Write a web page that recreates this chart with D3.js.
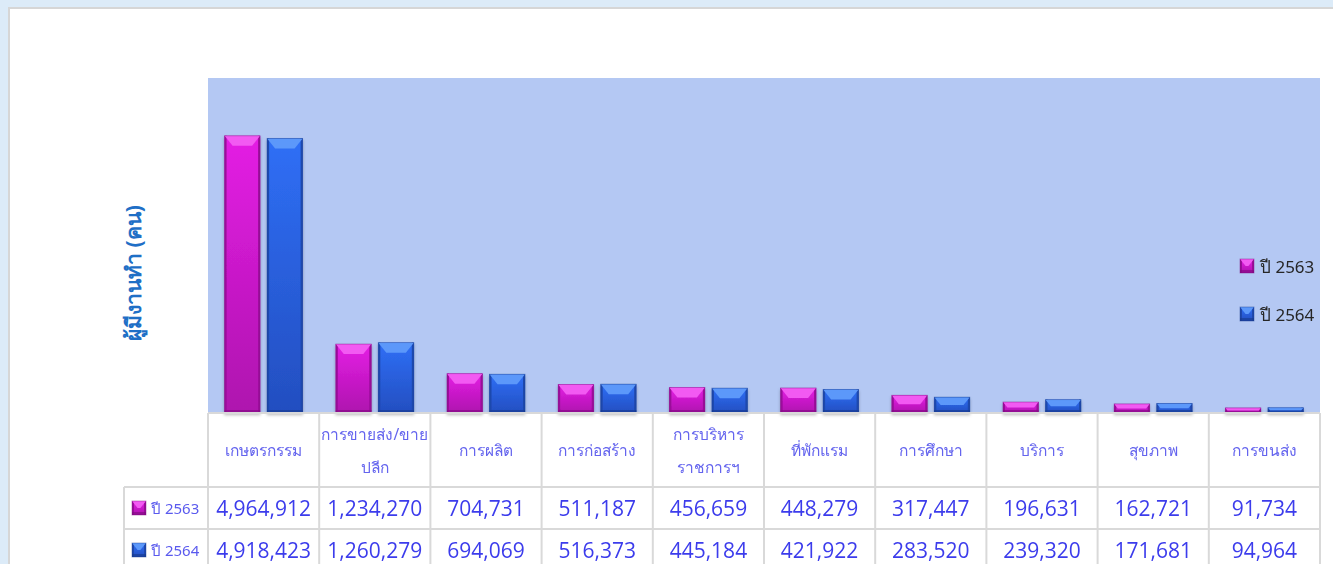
<!DOCTYPE html>
<html>
<head>
<meta charset="utf-8">
<script src="https://cdn.jsdelivr.net/npm/d3@7"></script>
<style>
  html, body { margin: 0; padding: 0; background: #dcebf8; overflow: hidden; }
  svg { display: block; }
</style>
</head>
<body>
<div id="chart"></div>
<script>
// ข้อมูลผู้มีงานทำ แยกตามอุตสาหกรรม
const categories = [
  ['เกษตรกรรม'],
  ['การขายส่ง/ขาย', 'ปลีก'],
  ['การผลิต'],
  ['การก่อสร้าง'],
  ['การบริหาร', 'ราชการฯ'],
  ['ที่พักแรม'],
  ['การศึกษา'],
  ['บริการ'],
  ['สุขภาพ'],
  ['การขนส่ง']
];
const seriesNames = ['ปี 2563', 'ปี 2564'];
const values2563 = [4964912, 1234270, 704731, 511187, 456659, 448279, 317447, 196631, 162721, 91734];
const values2564 = [4918423, 1260279, 694069, 516373, 445184, 421922, 283520, 239320, 171681, 94964];
const yMax = 6000000;

const W = 1333, H = 564;
const plot = { left: 208, right: 1320, top: 78, bottom: 413 };
const rowY = [413, 487, 529, 571];   // เส้นแบ่งแถวของตาราง

// สีของแต่ละชุดข้อมูล (หน้า, ขอบบน, ขอบข้าง)
const palette = [
  { top: '#e41fe4', bottom: '#ae12ae', bevel: '#f25af2', side: '#9a0e9a', base: '#7e0a7e' },
  { top: '#2f6ff6', bottom: '#234ec0', bevel: '#5c98fa', side: '#1f48ad', base: '#173a8c' }
];

const svg = d3.select('#chart').append('svg')
  .attr('width', W)
  .attr('height', H);

const defs = svg.append('defs');
palette.forEach((p, i) => {
  const g = defs.append('linearGradient')
    .attr('id', 'face' + i)
    .attr('x1', 0).attr('y1', 0).attr('x2', 0).attr('y2', 1);
  g.append('stop').attr('offset', '0%').attr('stop-color', p.top);
  g.append('stop').attr('offset', '100%').attr('stop-color', p.bottom);
});
defs.append('filter')
  .attr('id', 'shadow')
  .attr('x', '-20%').attr('y', '-20%').attr('width', '140%').attr('height', '140%')
  .append('feDropShadow')
  .attr('dx', 0).attr('dy', 2).attr('stdDeviation', 1.5)
  .attr('flood-color', '#000').attr('flood-opacity', 0.25);

// พื้นหลังหน้า
svg.append('rect')
  .attr('x', 9).attr('y', 8)
  .attr('width', W).attr('height', H)
  .attr('fill', '#ffffff')
  .attr('stroke', '#d6d6d6')
  .attr('stroke-width', 2);

// พื้นที่กราฟ
svg.append('rect')
  .attr('x', plot.left).attr('y', plot.top)
  .attr('width', plot.right - plot.left)
  .attr('height', plot.bottom - plot.top)
  .attr('fill', '#b4c8f3');

// สเกล
const x = d3.scaleBand()
  .domain(d3.range(categories.length))
  .range([plot.left, plot.right])
  .paddingInner(0).paddingOuter(0);

const xSub = d3.scaleBand()
  .domain([0, 1])
  .range([0, x.bandwidth()])
  .paddingInner(0.165)
  .paddingOuter(0.39);

const y = d3.scaleLinear()
  .domain([0, yMax])
  .range([plot.bottom, plot.top]);

// แท่งแบบนูน
function drawBevelBar(g, bx, by, bw, bh, si) {
  const p = palette[si];
  const bt = Math.min(10, bh / 2);
  const inset = Math.min(bt * 0.8, bw / 2);
  const side = Math.min(2, bw / 2);
  const bb = Math.min(3, bh / 2);
  const grp = g.append('g');
  grp.append('rect')
    .attr('x', bx).attr('y', by)
    .attr('width', bw).attr('height', bh)
    .attr('fill', `url(#face${si})`);
  // ขอบข้าง
  grp.append('rect')
    .attr('x', bx).attr('y', by).attr('width', side).attr('height', bh)
    .attr('fill', p.side);
  grp.append('rect')
    .attr('x', bx + bw - side).attr('y', by).attr('width', side).attr('height', bh)
    .attr('fill', p.side);
  // ขอบล่าง
  grp.append('rect')
    .attr('x', bx).attr('y', by + bh - bb).attr('width', bw).attr('height', bb)
    .attr('fill', p.base).attr('opacity', 0.6);
  // ขอบบน
  grp.append('polygon')
    .attr('points', [
      [bx, by], [bx + bw, by],
      [bx + bw - inset, by + bt], [bx + inset, by + bt]
    ].map(d => d.join(',')).join(' '))
    .attr('fill', p.bevel);
  grp.append('rect')
    .attr('x', bx).attr('y', by).attr('width', bw).attr('height', bh)
    .attr('fill', 'none')
    .attr('stroke', p.base)
    .attr('stroke-opacity', 0.5)
    .attr('stroke-width', 0.8);
  return grp;
}

const bars = svg.append('g').attr('filter', 'url(#shadow)');
[values2563, values2564].forEach((vals, si) => {
  vals.forEach((v, i) => {
    const bx = x(i) + xSub(si);
    const by = y(v);
    drawBevelBar(bars, bx, by, xSub.bandwidth(), plot.bottom - by, si);
  });
});

// ชื่อแกน Y
svg.append('text')
  .attr('transform', 'translate(133,273) rotate(-90)')
  .attr('text-anchor', 'middle')
  .attr('dominant-baseline', 'central')
  .attr('font-family', "Tahoma, 'Noto Sans', sans-serif")
  .attr('font-weight', 'bold')
  .attr('font-size', 21)
  .attr('fill', '#1f6fc6')
  .text('ผู้มีงานทำ (คน)');

// คำอธิบายสัญลักษณ์
const legend = svg.append('g');
seriesNames.forEach((name, si) => {
  const ly = 266 + si * 48;
  drawBevelBar(legend, 1240, ly - 7, 14, 14, si);
  legend.append('text')
    .attr('x', 1260).attr('y', ly)
    .attr('dominant-baseline', 'central')
    .attr('font-family', "Tahoma, 'Noto Sans', sans-serif")
    .attr('font-size', 17)
    .attr('fill', '#262626')
    .text(name);
});

// ตารางข้อมูล
const table = svg.append('g');
const lineColor = '#d9d9d9';
const edges = x.domain().map(i => x(i)).concat([plot.right]);

edges.forEach(ex => {
  table.append('line')
    .attr('x1', ex).attr('x2', ex)
    .attr('y1', rowY[0]).attr('y2', rowY[3])
    .attr('stroke', lineColor).attr('stroke-width', 2);
});
table.append('line')
  .attr('x1', plot.left).attr('x2', plot.right)
  .attr('y1', rowY[0]).attr('y2', rowY[0])
  .attr('stroke', lineColor).attr('stroke-width', 2);
[rowY[1], rowY[2]].forEach(ry => {
  table.append('line')
    .attr('x1', 124).attr('x2', plot.right)
    .attr('y1', ry).attr('y2', ry)
    .attr('stroke', lineColor).attr('stroke-width', 2);
});
table.append('line')
  .attr('x1', 124).attr('x2', 124)
  .attr('y1', rowY[1]).attr('y2', rowY[3])
  .attr('stroke', lineColor).attr('stroke-width', 2);

// หัวตาราง
categories.forEach((lines, i) => {
  const cx = x(i) + x.bandwidth() / 2;
  const cy = (rowY[0] + rowY[1]) / 2;
  const t = table.append('text')
    .attr('x', cx)
    .attr('text-anchor', 'middle')
    .attr('font-family', "Tahoma, 'Noto Sans', sans-serif")
    .attr('font-size', 15.5)
    .attr('fill', '#6464ee');
  lines.forEach((ln, k) => {
    t.append('tspan')
      .attr('x', cx)
      .attr('y', cy + (k - (lines.length - 1) / 2) * 33)
      .attr('dominant-baseline', 'central')
      .text(ln);
  });
});

// แถวข้อมูล
const fmt = d3.format(',');
[values2563, values2564].forEach((vals, si) => {
  const cy = (rowY[si + 1] + rowY[si + 2]) / 2;
  drawBevelBar(table, 132, cy - 7, 14, 14, si);
  table.append('text')
    .attr('x', 151).attr('y', cy)
    .attr('dominant-baseline', 'central')
    .attr('font-family', "Tahoma, 'Noto Sans', sans-serif")
    .attr('font-size', 15)
    .attr('fill', '#5a5aee')
    .text(seriesNames[si]);
  vals.forEach((v, i) => {
    table.append('text')
      .attr('x', x(i) + x.bandwidth() / 2)
      .attr('y', cy)
      .attr('text-anchor', 'middle')
      .attr('dominant-baseline', 'central')
      .attr('font-family', "'Open Sans', 'Noto Sans', sans-serif")
      .attr('font-size', 21)
      .attr('font-weight', 500)
      .attr('fill', '#3c3cec')
      .text(fmt(v));
  });
});
</script>
</body>
</html>
